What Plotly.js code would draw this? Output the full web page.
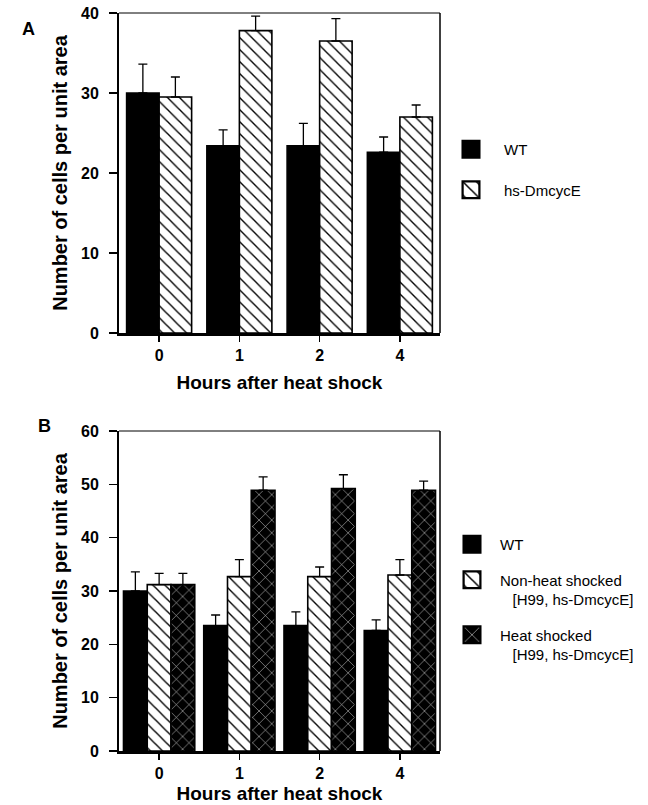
<!DOCTYPE html>
<html><head><meta charset="utf-8">
<script src="https://cdn.plot.ly/plotly-3.0.1.min.js"></script>
<style>html,body{margin:0;padding:0;background:#fff}#chart{width:648px;height:805px}</style>
</head><body><div id="chart"></div>
<script>
const hours = ['0', '1', '2', '4'];
// Panel A
const aWT = [30.0, 23.4, 23.4, 22.6];
const aWTerr = [3.6, 2.0, 2.8, 1.9];
const aHs = [29.5, 37.8, 36.5, 27.0];
const aHsErr = [2.5, 1.8, 2.8, 1.5];
// Panel B
const bWT = [30.0, 23.5, 23.5, 22.6];
const bWTerr = [3.6, 2.0, 2.6, 2.0];
const bNon = [31.2, 32.7, 32.7, 33.0];
const bNonErr = [2.1, 3.2, 1.8, 2.9];
const bHeat = [31.2, 48.9, 49.2, 48.9];
const bHeatErr = [2.1, 2.5, 2.6, 1.7];

const FONT = 'Liberation Sans, Arial, sans-serif';
const W = 648, H = 805;
const px = v => v / W, py = v => 1 - v / H;

function err(arr) {
  return {type: 'data', array: arr, arrayminus: arr.map(() => 0), symmetric: false,
          color: '#000', thickness: 1.3, width: 4.5};
}
const line = {color: '#000', width: 1.6};
const hatch = {shape: '\\', fgcolor: '#000', bgcolor: '#fff', size: 8.5, solidity: 0.16};
const cross = {shape: 'x', fgcolor: '#c8c8c8', bgcolor: '#000', size: 9, solidity: 0.12};
const BW = 0.296;

const traces = [
  {type: 'bar', x: hours, y: aWT, name: 'WT', xaxis: 'x', yaxis: 'y', legend: 'legend', legendgroup: 'a1',
   marker: {color: '#000', line: line}, error_y: err(aWTerr)},
  {type: 'bar', x: hours, y: aHs, name: 'hs-DmcycE', xaxis: 'x', yaxis: 'y', legend: 'legend', legendgroup: 'a2',
   marker: {color: '#fff', line: line, pattern: hatch}, error_y: err(aHsErr)},
  {type: 'bar', x: hours, y: bWT, name: 'WT', xaxis: 'x2', yaxis: 'y2', legend: 'legend2', legendgroup: 'b1',
   width: BW, offset: -1.5 * BW,
   marker: {color: '#000', line: line}, error_y: err(bWTerr)},
  {type: 'bar', x: hours, y: bNon, name: 'Non-heat shocked<br>\u00a0\u00a0\u00a0[H99, hs-DmcycE]', xaxis: 'x2', yaxis: 'y2', legend: 'legend2', legendgroup: 'b2',
   width: BW, offset: -0.5 * BW,
   marker: {color: '#fff', line: line, pattern: hatch}, error_y: err(bNonErr)},
  {type: 'bar', x: hours, y: bHeat, name: 'Heat shocked<br>\u00a0\u00a0\u00a0[H99, hs-DmcycE]', xaxis: 'x2', yaxis: 'y2', legend: 'legend2', legendgroup: 'b3',
   width: BW, offset: 0.5 * BW,
   marker: {color: '#000', line: line, pattern: cross}, error_y: err(bHeatErr)}
];

const tickFont = {family: FONT, size: 16, color: '#000', weight: 'bold'};
const xTitleFont = {family: FONT, size: 19, color: '#000', weight: 'bold'};
const yTitleFont = {family: FONT, size: 20, color: '#000', weight: 'bold'};

function xax(anchor, standoff) {
  return {domain: [px(119), px(440)], anchor: anchor, type: 'category', categoryorder: 'array', categoryarray: hours,
    showline: true, linewidth: 2.5, linecolor: '#000', ticks: 'outside', ticklen: 6, tickwidth: 1.5, tickcolor: '#000',
    tickfont: tickFont, showgrid: false, zeroline: false, fixedrange: true,
    title: {text: 'Hours after heat shock', font: xTitleFont, standoff: standoff}};
}
function yax(dom, anchor, max) {
  return {domain: dom, anchor: anchor, range: [0, max], dtick: 10, showline: true, linewidth: 2, linecolor: '#000',
    ticks: 'outside', ticklen: 8, tickwidth: 1.5, tickcolor: '#000', tickfont: tickFont, ticklabelstandoff: 7,
    showgrid: false, zeroline: false,
    title: {text: 'Number of cells per unit area', font: yTitleFont, standoff: 8}};
}

const legFont = {family: FONT, size: 15, color: '#000'};
const layout = {
  width: W, height: H, margin: {l: 0, r: 0, t: 0, b: 0}, paper_bgcolor: '#fff', plot_bgcolor: '#fff',
  font: {family: FONT, color: '#000'},
  barmode: 'group', bargap: 0.19, bargroupgap: 0,
  xaxis: xax('y', 13),
  yaxis: yax([py(333), py(13)], 'x', 40),
  xaxis2: xax('y2', 6),
  yaxis2: yax([py(751), py(431)], 'x2', 60),
  legend: {x: px(438), y: py(133), xanchor: 'left', yanchor: 'top', font: legFont, itemwidth: 56,
    tracegroupgap: 18, traceorder: 'grouped', bgcolor: 'rgba(0,0,0,0)'},
  legend2: {x: px(444), y: py(528), xanchor: 'left', yanchor: 'top', font: legFont, itemwidth: 46,
    tracegroupgap: 13, traceorder: 'grouped', valign: 'top', bgcolor: 'rgba(0,0,0,0)'},
  annotations: [
    {text: 'A', x: px(20), y: py(17), xref: 'paper', yref: 'paper', showarrow: false, font: {family: FONT, size: 18, weight: 'bold', color: '#000'}},
    {text: 'B', x: px(36), y: py(426), xref: 'paper', yref: 'paper', showarrow: false, font: {family: FONT, size: 18, weight: 'bold', color: '#000'}}
  ],
  shapes: [
    {type: 'line', xref: 'paper', yref: 'paper', x0: px(119), x1: px(440), y0: py(13), y1: py(13), line: {color: '#000', width: 1}},
    {type: 'line', xref: 'paper', yref: 'paper', x0: px(440), x1: px(440), y0: py(13), y1: py(333), line: {color: '#000', width: 1.5}},
    {type: 'line', xref: 'paper', yref: 'paper', x0: px(119), x1: px(440), y0: py(431), y1: py(431), line: {color: '#000', width: 1}},
    {type: 'line', xref: 'paper', yref: 'paper', x0: px(440), x1: px(440), y0: py(431), y1: py(751), line: {color: '#000', width: 1.5}}
  ]
};

Plotly.newPlot('chart', traces, layout, {displayModeBar: false, staticPlot: true}).then(gd => {
  // enlarge legend swatches to match the reference's larger boxes
  gd.querySelectorAll('.legendpoints path').forEach(p => {
    const t = p.getAttribute('transform') || '';
    p.setAttribute('transform', t + ' scale(1.4)');
  });
});
</script>
</body></html>
